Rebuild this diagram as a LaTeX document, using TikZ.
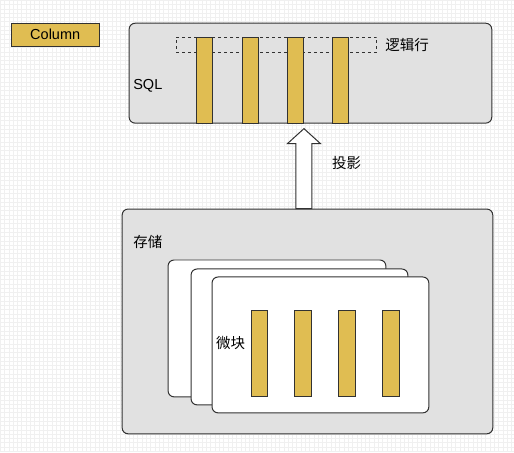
\documentclass[tikz,border=0pt]{standalone}
\usepackage{fontspec}
\setmainfont{Liberation Sans}
\newfontfamily\cjk{Noto Sans CJK SC}
\usetikzlibrary{positioning,calc}
\definecolor{colgold}{RGB}{224,189,82}
\definecolor{panelgray}{RGB}{225,225,225}
\definecolor{edgegray}{RGB}{50,50,50}

\begin{document}
\begin{tikzpicture}[
    x=1pt, y=-1pt,
    font=\fontsize{14.5}{17}\selectfont,
    panel/.style = {rectangle, rounded corners=6pt, draw=edgegray, line width=1pt, fill=panelgray, inner sep=0pt},
    card/.style = {rectangle, rounded corners=6pt, draw=edgegray, line width=1pt, fill=white, minimum width=217pt, minimum height=136pt, inner sep=0pt},
    colbar/.style = {rectangle, draw=edgegray, line width=1pt, fill=colgold, minimum width=16pt, minimum height=86pt, inner sep=0pt},
    rowbox/.style = {rectangle, draw=edgegray, dashed, line width=0.8pt, minimum width=201pt, minimum height=15pt, inner sep=0pt},
    lbl/.style = {anchor=west, inner sep=0pt},
    blockarrow/.style = {draw=edgegray, line width=1pt, fill=white, line join=miter}
]
    % 0. Background grid
    \fill[white] (0,0) rectangle (514,452);
    \draw[gray!12, line width=0.5pt, step=4.3pt] (0,0) grid (514,452);
    \useasboundingbox (0,0) rectangle (514,452);

    % 1. Legend
    \node [colbar, minimum width=88pt, minimum height=23pt] (legend) at (55,34.5) {Column};

    % 2. SQL panel
    \node [panel, minimum width=363pt, minimum height=100pt] (sql) at (310.5,73) {};
    \node [rowbox] (row) at (276.5,44.5) {};
    \foreach \x [count=\i] in {204.5,250,296,341}
        \node [colbar] (sqlcol\i) at (\x,80) {};
    \node [lbl] (sqllbl) at (133,86) {SQL};
    \node [lbl, right=8pt of row] (rowlbl) {\cjk 逻辑行};

    % 3. Storage panel
    \node [panel, minimum width=371pt, minimum height=225pt] (store) at (307.5,321.5) {};
    \node [lbl] (storelbl) at (133,242) {\cjk 存储};
    \node [card, minimum width=218pt, minimum height=137pt] (card1) at (277,328.5) {};
    \node [card] (card2) at (299.5,337) {};
    \node [card] (card3) at (320.5,345) {};
    \foreach \x [count=\i] in {259.5,303.5,347.5,391.5}
        \node [colbar, minimum width=17pt] (blkcol\i) at (\x,354) {};
    \node [lbl] (blklbl) at (216,343) {\cjk 微块};

    % 4. Projection arrow
    \coordinate (proj) at (304,0);
    \coordinate (pb) at (proj |- store.north);
    \coordinate (pt) at (proj |- sql.south);
    \draw [blockarrow] ($(pb)+(-8,0)$) -- ($(pt)+(-8,20)$) -- ($(pt)+(-16.5,20)$) -- ($(pt)+(0,5)$)
        -- ($(pt)+(16.5,20)$) -- ($(pt)+(8,20)$) -- ($(pb)+(8,0)$) -- cycle;
    \node [lbl] (projlbl) at (332,163) {\cjk 投影};

\end{tikzpicture}
\end{document}
